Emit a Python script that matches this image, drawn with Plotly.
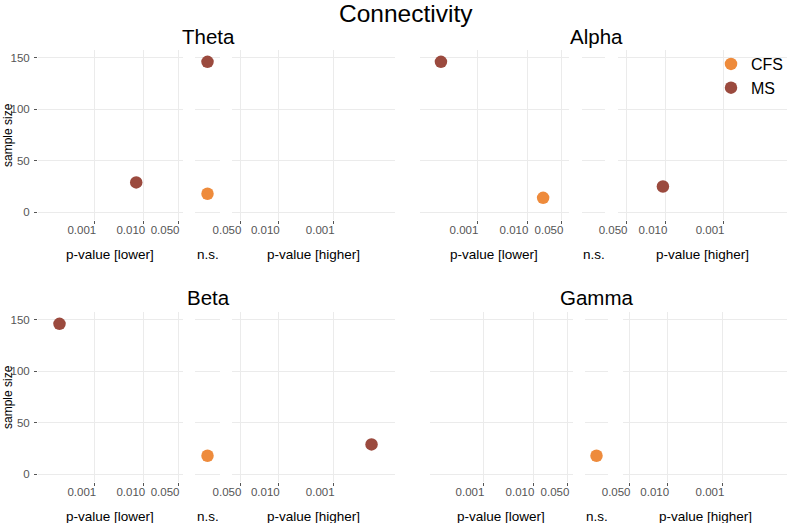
import plotly.graph_objects as go

# ---------------- data ----------------
bands = ["Theta", "Alpha", "Beta", "Gamma"]
sides = ["lower", "n.s.", "higher"]
side_titles = ["p-value [lower]", "n.s.", "p-value [higher]"]
groups = ["CFS", "MS"]
group_colors = {"CFS": "#EE8B3C", "MS": "#9B4A3E"}

pt_band = ["Theta", "Theta", "Theta", "Alpha", "Alpha", "Alpha", "Beta", "Beta", "Beta", "Gamma"]
pt_group = ["MS", "MS", "CFS", "MS", "CFS", "MS", "MS", "CFS", "MS", "CFS"]
pt_side = ["lower", "n.s.", "n.s.", "lower", "lower", "higher", "lower", "n.s.", "higher", "n.s."]
pt_p = [0.007, None, None, 0.00019, 0.021, 0.0113, 0.00019, None, 0.0002, None]
pt_n = [29, 146, 18, 146, 14, 25, 146, 18, 29, 18]

p_ticks = [0.001, 0.01, 0.05]
p_tick_labels = ["0.001", "0.010", "0.050"]
n_ticks = [0, 50, 100, 150]

# ---------------- layout geometry (pixels) ----------------
W, H = 788, 523
# per band: (lower domain px, lower log-range, ns domain px, higher domain px, higher log-range)
geom = {
    "Theta": ((38, 183), (-4.16, -1.20), (195, 220), (232, 395), (-1.155, -4.127)),
    "Alpha": ((420, 569), (-4.14, -1.16), (582, 605), (618, 787), (-1.16, -4.12)),
    "Beta":  ((38, 183), (-4.16, -1.20), (195, 220), (232, 395), (-1.155, -4.127)),
    "Gamma": ((430, 573), (-4.06, -1.20), (585, 608), (623, 787), (-1.19, -4.16)),
}
row_px = {"Theta": (50, 220), "Alpha": (50, 220), "Beta": (312, 482), "Gamma": (312, 482)}
title_pos = {"Theta": (208, 36), "Alpha": (596, 36), "Beta": (208, 297), "Gamma": (597, 297)}

FONT = "Liberation Sans, Arial, Helvetica, sans-serif"
GRID = "#EBEBEB"
TICKC = "#555555"

fig = go.Figure()
layout = dict(
    width=W, height=H, margin=dict(l=0, r=0, t=0, b=0, autoexpand=False),
    paper_bgcolor="white", plot_bgcolor="white",
    font=dict(family=FONT, color="black"),
    showlegend=True,
    legend=dict(x=711 / W, xanchor="left", y=1 - 47 / H, yanchor="top",
                font=dict(size=16, family=FONT), bgcolor="rgba(0,0,0,0)",
                itemsizing="trace", tracegroupgap=0),
)
annotations = []

shown = set()
for bi, band in enumerate(bands):
    lo_dom, lo_rng, ns_dom, hi_dom, hi_rng = geom[band]
    y0, y1 = row_px[band]
    ydom = [1 - y1 / H, 1 - y0 / H]
    for si, side in enumerate(sides):
        k = bi * 3 + si + 1
        xa = "xaxis" if k == 1 else f"xaxis{k}"
        ya = "yaxis" if k == 1 else f"yaxis{k}"
        xr = "x" if k == 1 else f"x{k}"
        yr = "y" if k == 1 else f"y{k}"
        dom_px = [lo_dom, ns_dom, hi_dom][si]
        xdom = [dom_px[0] / W, dom_px[1] / W]
        if side == "n.s.":
            layout[xa] = dict(domain=xdom, anchor=yr, type="category", range=[-0.5, 0.5],
                              showgrid=False, zeroline=False, showticklabels=False,
                              ticks="", showline=False, fixedrange=True, automargin=False)
        else:
            rng = lo_rng if side == "lower" else hi_rng
            layout[xa] = dict(domain=xdom, anchor=yr, type="log", range=list(rng),
                              tickvals=p_ticks, ticktext=p_tick_labels,
                              showgrid=True, gridcolor=GRID, gridwidth=1,
                              zeroline=False, showline=False, automargin=False,
                              ticks="outside", ticklen=3, tickwidth=1, tickcolor=TICKC,
                              tickfont=dict(size=11.5, color=TICKC, family=FONT),
                              ticklabelshift=(-13 if side == "lower" else 13),
                              ticklabelstandoff=-4)
        show_y = (si == 0 and band in ("Theta", "Beta"))
        layout[ya] = dict(domain=ydom, anchor=xr, range=[-7.5, 157.5],
                          tickvals=n_ticks, showgrid=True, gridcolor=GRID, gridwidth=1,
                          zeroline=False, showline=False, automargin=False,
                          showticklabels=show_y,
                          ticks="outside" if show_y else "", ticklen=3, tickwidth=1,
                          tickcolor=TICKC,
                          tickfont=dict(size=11.5, color=TICKC, family=FONT),
                          ticklabelstandoff=2)
        # axis title
        annotations.append(dict(text=side_titles[si], xref="paper", yref="paper",
                                x=(dom_px[0] + dom_px[1]) / 2 / W, y=1 - (y1 + 34) / H,
                                xanchor="center", yanchor="middle", showarrow=False,
                                font=dict(size=13.5, color="black", family=FONT)))
        # empty trace so that every sub-panel is drawn
        fig.add_trace(go.Scatter(x=[None], y=[None], xaxis=xr, yaxis=yr, mode="markers",
                                 showlegend=False, hoverinfo="skip"))
        # points
        for g in groups:
            idx = [i for i in range(len(pt_n))
                   if pt_band[i] == band and pt_side[i] == side and pt_group[i] == g]
            if not idx:
                continue
            xs = ["n.s." if side == "n.s." else pt_p[i] for i in idx]
            ys = [pt_n[i] for i in idx]
            fig.add_trace(go.Scatter(
                x=xs, y=ys, xaxis=xr, yaxis=yr, mode="markers", name=g,
                legendgroup=g, showlegend=(g not in shown),
                legendrank=groups.index(g) + 1,
                marker=dict(size=12.5, color=group_colors[g], line=dict(width=0)),
                hoverinfo="x+y"))
            shown.add(g)
    # band title
    tx, ty = title_pos[band]
    annotations.append(dict(text=band, xref="paper", yref="paper", x=tx / W, y=1 - ty / H,
                            xanchor="center", yanchor="middle", showarrow=False,
                            font=dict(size=20.5, color="black", family=FONT)))

# y axis titles
for yc in (135, 397):
    annotations.append(dict(text="sample size", xref="paper", yref="paper", x=8 / W,
                            y=1 - yc / H, xanchor="center", yanchor="middle",
                            textangle=-90, showarrow=False,
                            font=dict(size=12, color="black", family=FONT)))
# main title
annotations.append(dict(text="Connectivity", xref="paper", yref="paper", x=406 / W,
                        y=1 - 13 / H, xanchor="center", yanchor="middle", showarrow=False,
                        font=dict(size=24.5, color="black", family=FONT)))

layout["annotations"] = annotations
fig.update_layout(**layout)
fig.write_html("out.html", config={"displayModeBar": False},
               post_script="document.body.style.margin='0';document.body.style.overflow='hidden';")
